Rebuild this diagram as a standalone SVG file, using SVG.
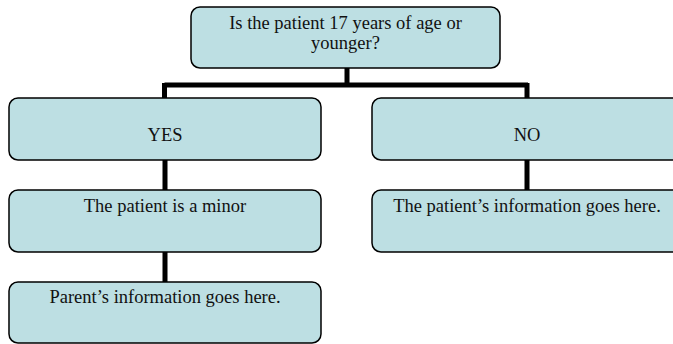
<svg xmlns="http://www.w3.org/2000/svg" width="673" height="344" viewBox="0 0 673 344">
<style>
.box{fill:#BDDFE3;stroke:#000;stroke-width:1.5}
.t{font-family:"Liberation Serif","Times New Roman",serif;font-size:18.5px;fill:#111;text-anchor:middle}
.c{stroke:#000;stroke-width:5;fill:none}
</style>
<rect width="673" height="344" fill="#fff"/>
<g id="connectors">
<path class="c" d="M347 68V85M164.5 85H528M164.5 83V98M527 83V98"/>
<path class="c" d="M165 160V190M165 252V282M527 160V190"/>
</g>
<g id="n-question">
<rect class="box" x="191" y="7" width="309" height="61" rx="9"/>
<text class="t" x="345.5" y="29">Is the patient 17 years of age or</text>
<text class="t" x="345.5" y="49">younger?</text>
</g>
<g id="n-yes">
<rect class="box" x="9" y="98" width="312" height="62" rx="9"/>
<text class="t" x="165" y="141">YES</text>
</g>
<g id="n-no">
<rect class="box" x="372" y="98" width="312" height="62" rx="9"/>
<text class="t" x="527" y="141">NO</text>
</g>
<g id="n-minor">
<rect class="box" x="9" y="190" width="312" height="62" rx="9"/>
<text class="t" x="165" y="212">The patient is a minor</text>
</g>
<g id="n-patient-info">
<rect class="box" x="372" y="190" width="312" height="62" rx="9"/>
<text class="t" x="527" y="212">The patient’s information goes here.</text>
</g>
<g id="n-parent-info">
<rect class="box" x="9" y="282" width="312" height="61" rx="9"/>
<text class="t" x="165" y="303">Parent’s information goes here.</text>
</g>
</svg>
